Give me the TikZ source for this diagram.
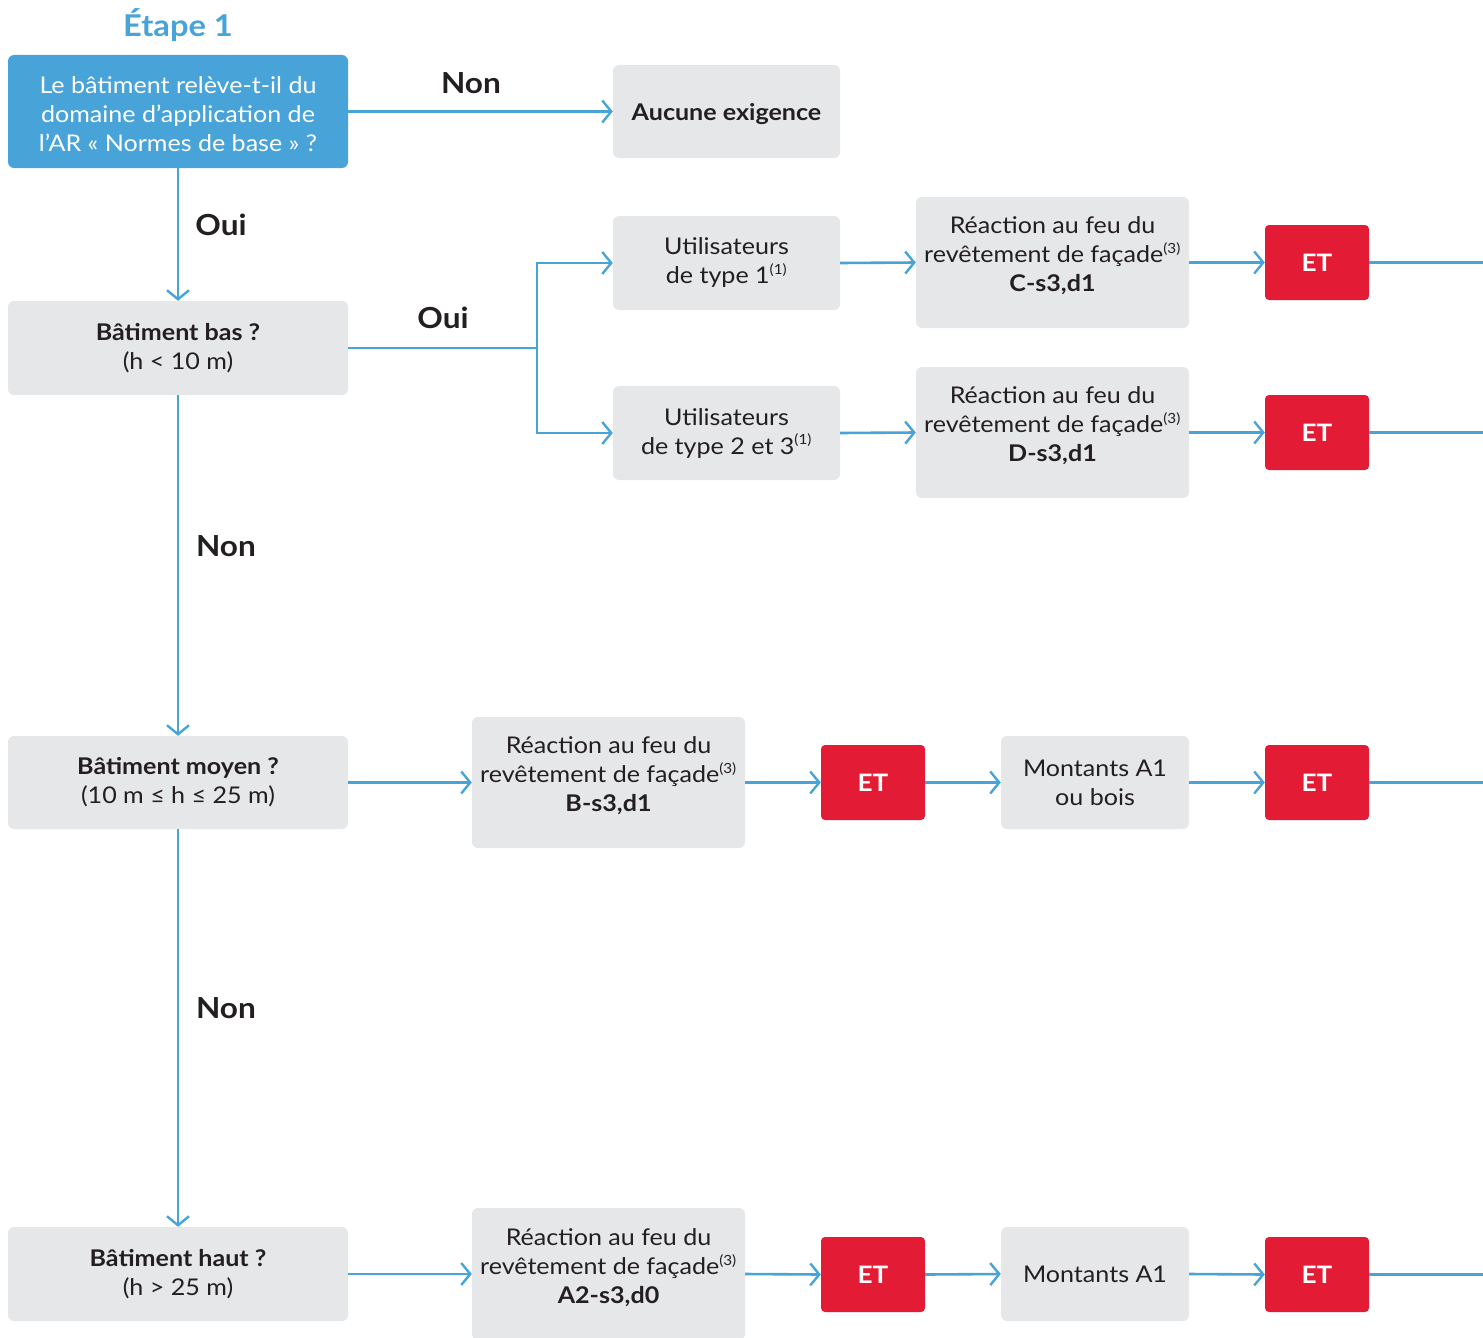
\documentclass[tikz,border=0pt]{standalone}
\usepackage{fontspec}
\setmainfont{Lato}[FakeStretch=1.09]
\usetikzlibrary{arrows.meta}
\definecolor{cblue}{HTML}{48A3D9}
\definecolor{cgrey}{HTML}{E6E7E8}
\definecolor{cred}{HTML}{E31B34}
\definecolor{ctext}{HTML}{231F20}
\tikzset{
  base/.style={rounded corners=6pt, align=center, inner sep=0pt, text=ctext,
    font=\fontsize{23}{29}\selectfont},
  gbox/.style={base, fill=cgrey},
  bbox/.style={base, fill=cblue, text=white},
  etbox/.style={base, fill=cred, text=white, minimum width=104pt, minimum height=75pt,
    font=\fontsize{24}{29}\selectfont\bfseries, rounded corners=4pt},
  conn/.style={draw=cblue, line width=2.6pt},
  arr/.style={conn, -{Straight Barb[length=9pt,width=22pt,line width=2.4pt]}},
  lbl/.style={text=ctext, font=\fontsize{29}{34}\selectfont\bfseries},
}
\newcommand{\fnref}[1]{\textsuperscript{\fontsize{14}{14}\selectfont(#1)}}
\newcommand{\lift}[1]{\rule[-#1]{0pt}{#1}}
\begin{document}
\begin{tikzpicture}[x=1pt,y=-1pt]
\useasboundingbox (0,0) rectangle (1483,1338);
\node[text=cblue, font=\fontsize{30}{34}\selectfont\bfseries] (etape) at (178,25) {Étape 1};
\node[bbox, minimum width=340pt, minimum height=113pt] (q0) at (178,111.5)
  {\rule{0pt}{22pt}Le bâtiment relève-t-il du\\domaine d’application de\\l’AR « Normes de base » ?};
\node[gbox, minimum width=227pt, minimum height=93pt, font=\fontsize{23}{29}\selectfont\bfseries] (none) at (726.5,111.5) {\rule{0pt}{22pt}Aucune exigence};
\node[gbox, minimum width=340pt, minimum height=94pt] (bas) at (178,348)
  {\textbf{Bâtiment bas ?}\\(h < 10 m)};
\node[gbox, minimum width=227pt, minimum height=94pt] (u1) at (726.5,263)
  {Utilisateurs\\de type 1\fnref{1}};
\node[gbox, minimum width=227pt, minimum height=94pt] (u2) at (726.5,433)
  {Utilisateurs\\de type 2 et 3\fnref{1}};
\node[gbox, minimum width=273pt, minimum height=131pt] (rC) at (1052.5,262.5)
  {Réaction au feu du\\revêtement de façade\fnref{3}\\\textbf{C-s3,d1}\lift{16pt}};
\node[gbox, minimum width=273pt, minimum height=131pt] (rD) at (1052.5,432.5)
  {Réaction au feu du\\revêtement de façade\fnref{3}\\\textbf{D-s3,d1}\lift{16pt}};
\node[etbox] (etC) at (1317,262.5) {ET};
\node[etbox] (etD) at (1317,432.5) {ET};
\node[gbox, minimum width=340pt, minimum height=93pt] (moy) at (178,782.5)
  {\textbf{Bâtiment moyen ?}\\(10 m ≤ h ≤ 25 m)};
\node[gbox, minimum width=273pt, minimum height=131pt] (rB) at (608.5,782.5)
  {Réaction au feu du\\revêtement de façade\fnref{3}\\\textbf{B-s3,d1}\lift{16pt}};
\node[etbox] (etB1) at (873,782.5) {ET};
\node[gbox, minimum width=188pt, minimum height=93pt] (mB) at (1095,782.5)
  {Montants A1\\ou bois};
\node[etbox] (etB2) at (1317,782.5) {ET};
\node[gbox, minimum width=340pt, minimum height=94pt] (haut) at (178,1274)
  {\textbf{Bâtiment haut ?}\\(h > 25 m)};
\node[gbox, minimum width=273pt, minimum height=132pt] (rA) at (608.5,1274)
  {Réaction au feu du\\revêtement de façade\fnref{3}\\\textbf{A2-s3,d0}\lift{16pt}};
\node[etbox] (etA1) at (873,1274.5) {ET};
\node[gbox, minimum width=188pt, minimum height=94pt] (mA) at (1095,1274)
  {Montants A1};
\node[etbox] (etA2) at (1317,1274.5) {ET};
% labels
\node[lbl] (l1) at (471,83) {Non};
\node[lbl] (l2) at (221,225) {Oui};
\node[lbl] (l3) at (443,318) {Oui};
\node[lbl] (l4) at (226,546) {Non};
\node[lbl] (l5) at (226,1008) {Non};
% coordinates
\coordinate (split) at (537,348);
\coordinate (eC) at (1483,262.5);
\coordinate (eD) at (1483,432.5);
\coordinate (eB) at (1483,782.5);
\coordinate (eA) at (1483,1274.5);
% connectors
\draw[arr] (q0.east) -- (none.west);
\draw[arr] (q0.south) -- (bas.north);
\draw[conn] (bas.east) -- (split);
\draw[arr] (split) |- (u1.west);
\draw[arr] (split) |- (u2.west);
\draw[arr] (u1.east) -- (rC.west);
\draw[arr] (u2.east) -- (rD.west);
\draw[arr] (rC.east) -- (etC.west);
\draw[arr] (rD.east) -- (etD.west);
\draw[conn] (etC.east) -- (eC);
\draw[conn] (etD.east) -- (eD);
\draw[arr] (bas.south) -- (moy.north);
\draw[arr] (moy.east) -- (rB.west);
\draw[arr] (rB.east) -- (etB1.west);
\draw[arr] (etB1.east) -- (mB.west);
\draw[arr] (mB.east) -- (etB2.west);
\draw[conn] (etB2.east) -- (eB);
\draw[arr] (moy.south) -- (haut.north);
\draw[arr] (haut.east) -- (rA.west);
\draw[arr] (rA.east) -- (etA1.west);
\draw[arr] (etA1.east) -- (mA.west);
\draw[arr] (mA.east) -- (etA2.west);
\draw[conn] (etA2.east) -- (eA);
\end{tikzpicture}
\end{document}
